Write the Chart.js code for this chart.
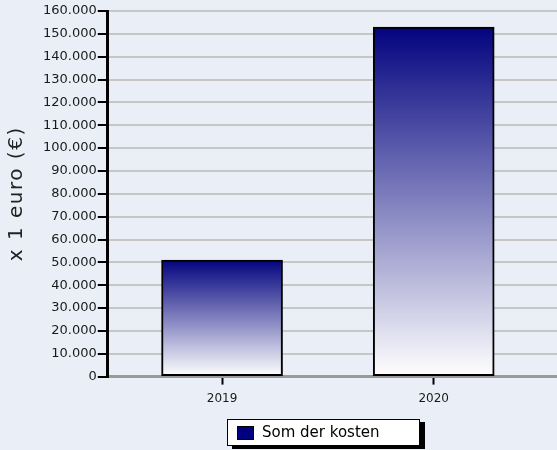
<!DOCTYPE html>
<html>
<head>
<meta charset="utf-8">
<script src="https://cdn.jsdelivr.net/npm/chart.js@4/dist/chart.umd.min.js"></script>
<style>
  html, body { margin: 0; padding: 0; background: #eaeff7; overflow: hidden; }
  #wrap { width: 557px; height: 450px; }
</style>
</head>
<body>
<div id="wrap"><canvas id="chart"></canvas></div>
<script>
// data
const years = ["2019", "2020"];
const kosten = [51000, 153000];
const yTicks = [0, 10000, 20000, 30000, 40000, 50000, 60000, 70000, 80000,
    90000, 100000, 110000, 120000, 130000, 140000, 150000, 160000];
const serieLabel = "Som der kosten";
const yTitle = "x 1 euro (€)";

const FONT = "'DejaVu Sans', Verdana, sans-serif";

// achtergrond, astitel en legenda met schaduw
const decor = {
    id: 'decor',
    beforeDraw(chart) {
        const c = chart.ctx;
        c.save();
        c.fillStyle = '#eaeff7';
        c.fillRect(0, 0, chart.width, chart.height);
        c.restore();
    },
    afterDraw(chart) {
        const c = chart.ctx;
        // titel y-as (gedraaid)
        c.save();
        c.translate(17, (chart.chartArea.top + chart.chartArea.bottom) / 2);
        c.rotate(-Math.PI / 2);
        c.font = '20px ' + FONT;
        c.letterSpacing = '1.5px';
        c.fillStyle = '#222';
        c.textAlign = 'center';
        c.textBaseline = 'middle';
        c.fillText(yTitle, 0, 0);
        c.restore();

        // legenda
        const x = 227, y = 419, w = 193, h = 27;
        c.save();
        c.fillStyle = '#000';
        c.fillRect(x + 5, y + 3, w, h);
        c.fillStyle = '#fff';
        c.fillRect(x, y, w, h);
        c.strokeStyle = '#000';
        c.lineWidth = 1;
        c.strokeRect(x + 0.5, y + 0.5, w - 1, h - 1);
        c.fillStyle = '#000080';
        c.fillRect(x + 10, y + 7, 17, 14);
        c.strokeRect(x + 10.5, y + 7.5, 16, 13);
        c.fillStyle = '#000';
        c.font = '15px ' + FONT;
        c.textBaseline = 'middle';
        c.fillText(chart.data.datasets[0].label, x + 35, y + h / 2 + 1);
        c.restore();
    }
};

const ctx = document.getElementById('chart');
new Chart(ctx, {
    type: 'bar',
    data: {
        datasets: [{
            label: serieLabel,
            data: kosten.map((v, i) => ({ x: i, y: v })),
            backgroundColor: (context) => {
                const chart = context.chart;
                if (!chart.chartArea || context.type !== 'data') return '#000080';
                const top = chart.scales.y.getPixelForValue(context.raw.y);
                const base = chart.scales.y.getPixelForValue(0);
                const g = chart.ctx.createLinearGradient(0, top, 0, base);
                g.addColorStop(0, '#03037f');
                g.addColorStop(1, '#ffffff');
                return g;
            },
            borderColor: '#000',
            borderWidth: 2,
            borderSkipped: false,
            barThickness: 121
        }]
    },
    options: {
        responsive: true,
        maintainAspectRatio: false,
        animation: false,
        layout: { padding: { top: 11, right: 0, bottom: 37, left: 42 } },
        plugins: {
            legend: { display: false },
            tooltip: { enabled: false }
        },
        scales: {
            x: {
                type: 'linear',
                offset: false,
                min: -0.54,
                max: 1.5825,
                afterBuildTicks: (scale) => {
                    scale.ticks = years.map((_, i) => ({ value: i }));
                },
                ticks: {
                    callback: (v) => years[v],
                    color: '#1a1a1a',
                    font: { family: FONT, size: 12 },
                    padding: 7
                },
                grid: {
                    offset: false,
                    drawOnChartArea: false,
                    drawTicks: true,
                    tickLength: 8,
                    tickColor: '#000',
                    tickWidth: 2
                },
                border: { color: '#9a9a9a', width: 3 }
            },
            y: {
                min: 0,
                max: 160000,
                afterBuildTicks: (scale) => {
                    scale.ticks = yTicks.map(v => ({ value: v }));
                },
                ticks: {
                    callback: (v) => v.toLocaleString('nl-NL'),
                    color: '#1a1a1a',
                    font: { family: FONT, size: 13 },
                    padding: 1
                },
                grid: {
                    color: '#c6c6c6',
                    lineWidth: 2,
                    tickLength: 10,
                    tickColor: '#000',
                    tickWidth: 2
                },
                border: { color: '#000', width: 3 }
            }
        }
    },
    plugins: [decor]
});
</script>
</body>
</html>
